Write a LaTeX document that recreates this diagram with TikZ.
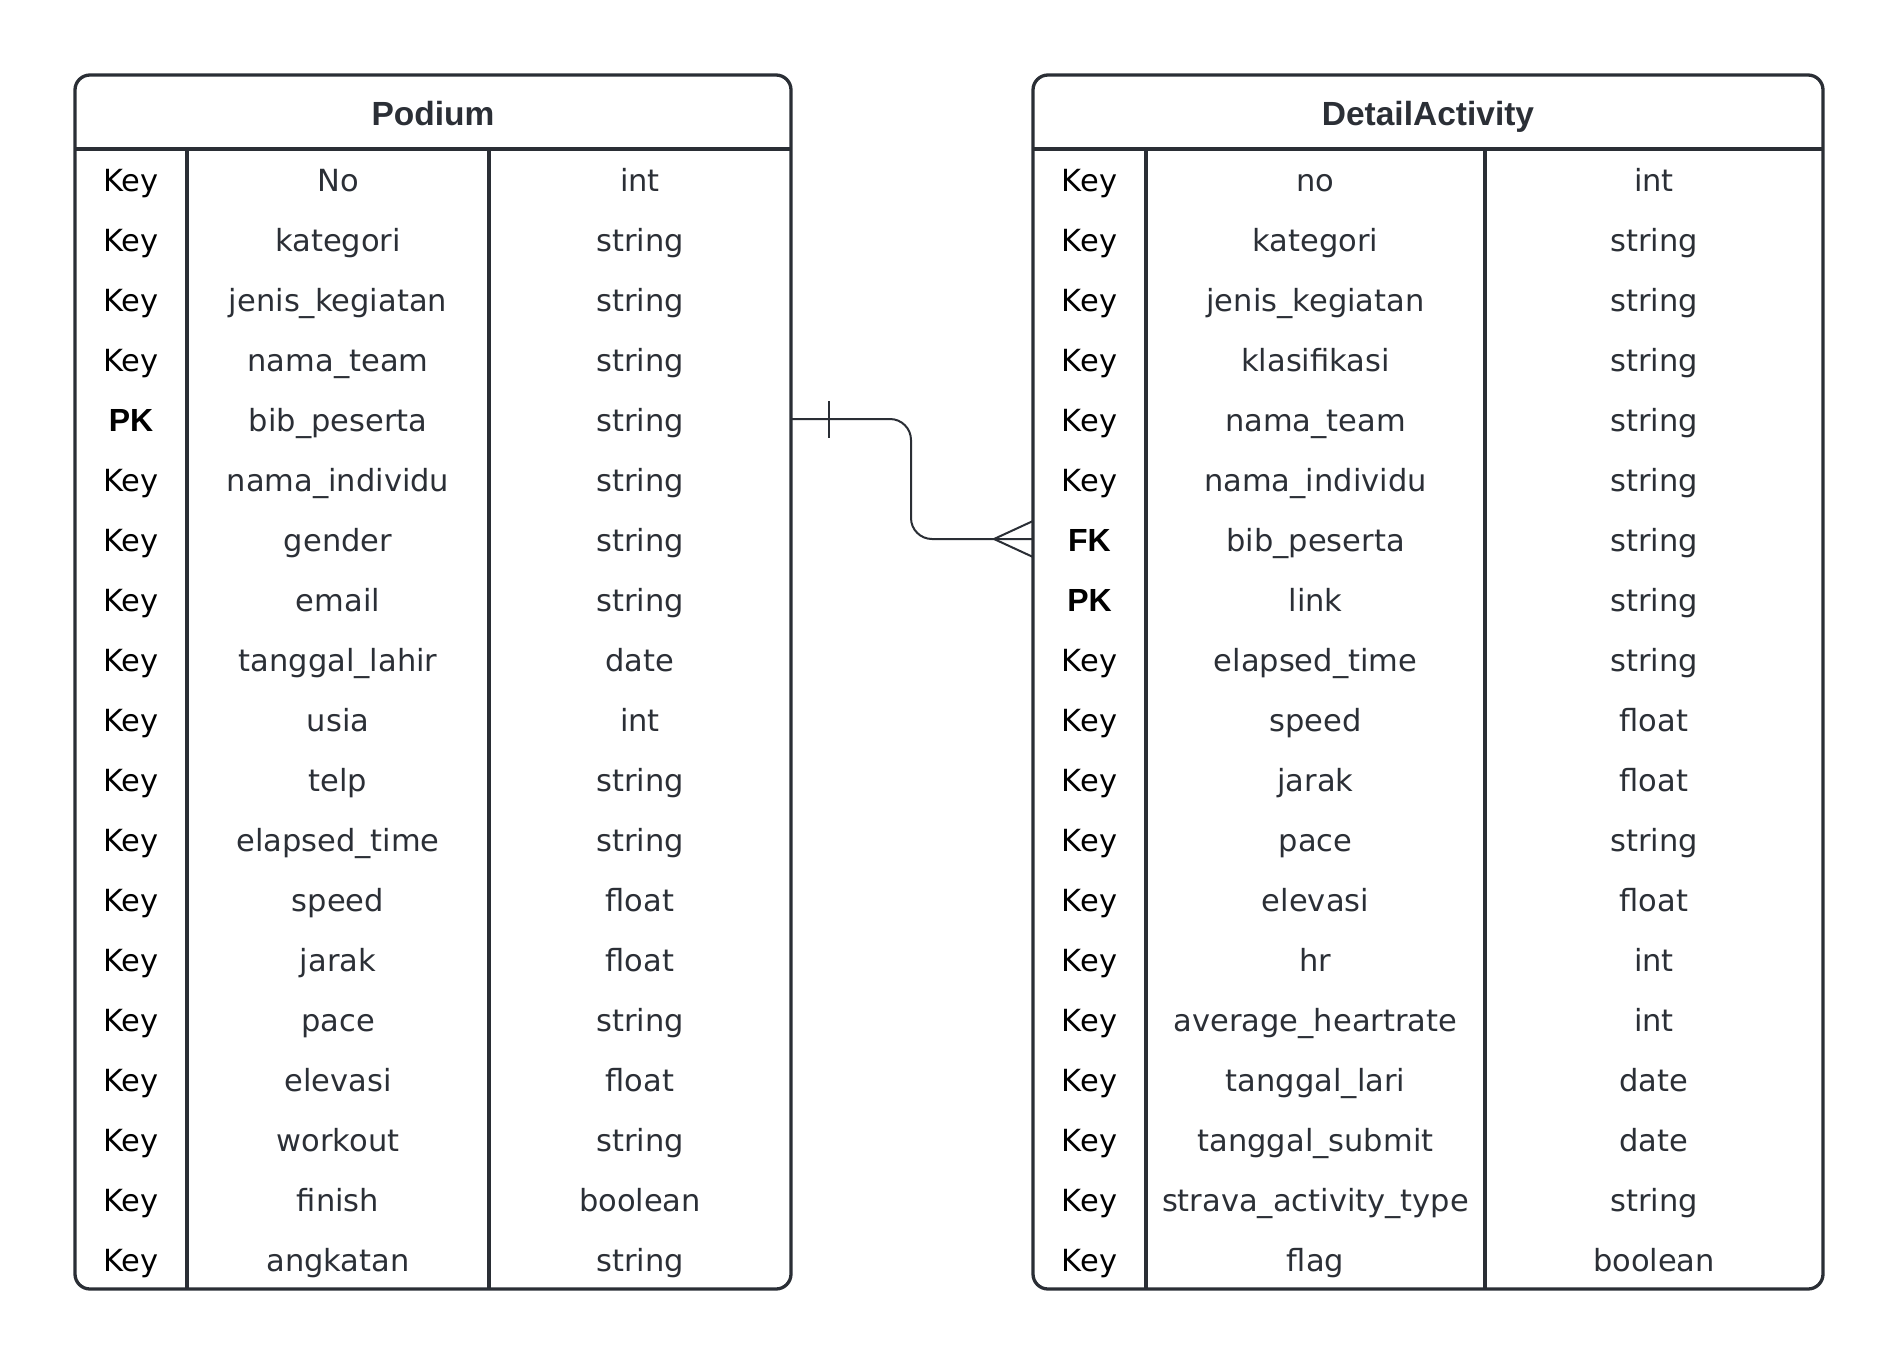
\documentclass[tikz,border=0pt]{standalone}
\usepackage{fontspec}
\setmainfont{DejaVu Sans}
\newfontfamily\lsans{Liberation Sans}
\definecolor{ln}{HTML}{2A2E35}
\definecolor{tx}{HTML}{2B2F36}
\newcommand{\bk}[1]{{\lsans\fontsize{32}{38}\selectfont\bfseries #1}}
\begin{document}
\begin{tikzpicture}[x=1pt,y=-1pt,
  tbl/.style={draw=ln,line width=3.3pt,rounded corners=15pt,inner sep=0pt,outer sep=0pt,anchor=north west},
  cell/.style={anchor=base,inner sep=0pt,font=\fontsize{30.5}{36}\selectfont,text=tx},
  keyc/.style={cell,text=black},
  ttl/.style={anchor=base,inner sep=0pt,text=tx,font=\lsans\fontsize{33.5}{40}\selectfont\bfseries},
  div/.style={draw=ln,line width=3.3pt},
  rel/.style={draw=ln,line width=2pt}]
\useasboundingbox (0,0) rectangle (1901,1365);
% tables
\node[tbl,minimum width=716pt,minimum height=1214pt] (podium) at (75,75) {};
\node[tbl,minimum width=790pt,minimum height=1214pt] (detail) at (1033,75) {};
% Podium grid
\draw[div] (75,149) -- (791,149);
\draw[div] (187,149) -- (187,1289);
\draw[div] (489,149) -- (489,1289);
% Detail grid
\draw[div] (1033,149) -- (1823,149);
\draw[div] (1146,149) -- (1146,1289);
\draw[div] (1485,149) -- (1485,1289);
% titles
\node[ttl] (ptitle) at (433,125) {Podium};
\node[ttl] (dtitle) at (1428,125) {DetailActivity};
% Podium rows
\foreach \k/\n/\t [count=\i] in {Key/No/int, Key/kategori/string, Key/jenis\_kegiatan/string, Key/nama\_team/string, \bk{PK}/bib\_peserta/string, Key/nama\_individu/string, Key/gender/string, Key/email/string, Key/tanggal\_lahir/date, Key/usia/int, Key/telp/string, Key/elapsed\_time/string, Key/speed/float, Key/jarak/float, Key/pace/string, Key/elevasi/float, Key/workout/string, Key/finish/boolean, Key/angkatan/string}
{
  \node[keyc] (pk\i) at (131,131+60*\i) {\k};
  \node[cell] (pn\i) at (338,131+60*\i) {\n};
  \node[cell] (pt\i) at (640,131+60*\i) {\t};
}
% Detail rows
\foreach \k/\n/\t [count=\i] in {Key/no/int, Key/kategori/string, Key/jenis\_kegiatan/string, Key/klasifikasi/string, Key/nama\_team/string, Key/nama\_individu/string, \bk{FK}/bib\_peserta/string, \bk{PK}/link/string, Key/elapsed\_time/string, Key/speed/float, Key/jarak/float, Key/pace/string, Key/elevasi/float, Key/hr/int, Key/average\_heartrate/int, Key/tanggal\_lari/date, Key/tanggal\_submit/date, Key/strava\_activity\_type/string, Key/flag/boolean}
{
  \node[keyc] (dk\i) at (1089.5,131+60*\i) {\k};
  \node[cell] (dn\i) at (1315.5,131+60*\i) {\n};
  \node[cell] (dt\i) at (1654,131+60*\i) {\t};
}
% relationship
\coordinate (src) at (791,419);
\coordinate (dst) at (1033,539);
\coordinate (bend1) at (911,419);
\coordinate (bend2) at (911,539);
\draw[rel,rounded corners=21pt] (src) -- (bend1) -- (bend2) -- (dst);
\coordinate (tickT) at (829,401);
\coordinate (tickB) at (829,438);
\draw[rel] (tickT) -- (tickB);
\coordinate (crowT) at (1033,521);
\coordinate (crowM) at (994,539);
\coordinate (crowB) at (1033,557);
\draw[rel] (crowT) -- (crowM) -- (crowB);
\end{tikzpicture}
\end{document}
